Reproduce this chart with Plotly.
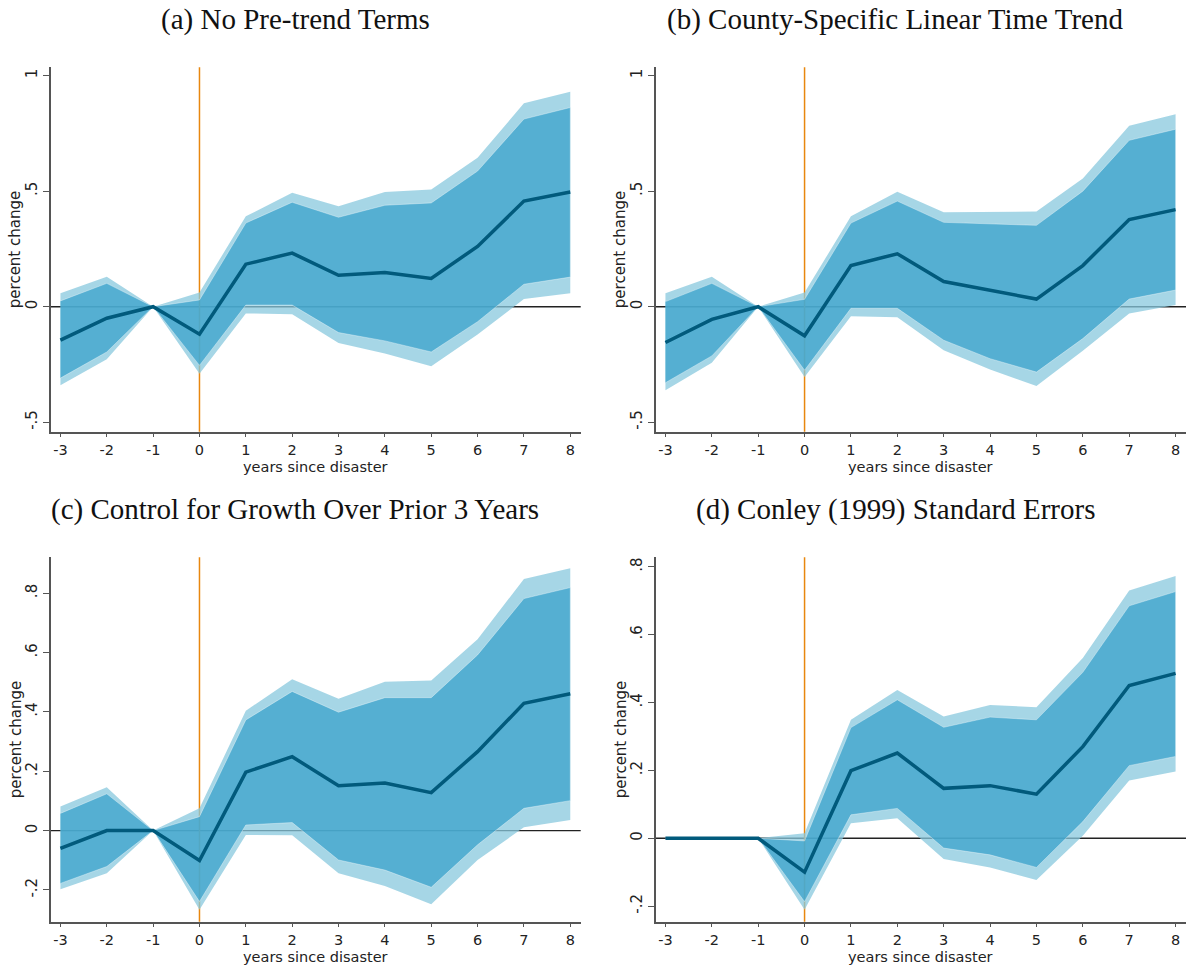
import plotly.graph_objects as go

# Event-time axis (years relative to the disaster)
years = [-3, -2, -1, 0, 1, 2, 3, 4, 5, 6, 7, 8]
x_ticks = [-3, -2, -1, 0, 1, 2, 3, 4, 5, 6, 7, 8]

# (a) No pre-trend terms
est_a = [-0.145, -0.050, 0.0, -0.119, 0.184, 0.232, 0.136, 0.148, 0.122, 0.261, 0.457, 0.496]
in_hi_a = [0.025, 0.101, 0.0, 0.029, 0.362, 0.452, 0.387, 0.439, 0.449, 0.587, 0.812, 0.862]
in_lo_a = [-0.309, -0.196, 0.0, -0.254, 0.007, 0.007, -0.112, -0.148, -0.196, -0.065, 0.097, 0.128]
out_hi_a = [0.058, 0.130, 0.0, 0.061, 0.391, 0.493, 0.435, 0.496, 0.507, 0.645, 0.880, 0.930]
out_lo_a = [-0.340, -0.228, 0.0, -0.290, -0.029, -0.033, -0.157, -0.203, -0.258, -0.120, 0.033, 0.058]

# (b) County-specific linear time trend
est_b = [-0.155, -0.055, 0.0, -0.126, 0.178, 0.229, 0.109, 0.070, 0.033, 0.178, 0.377, 0.420]
in_hi_b = [0.022, 0.101, 0.0, 0.032, 0.362, 0.457, 0.365, 0.358, 0.352, 0.500, 0.720, 0.768]
in_lo_b = [-0.329, -0.213, 0.0, -0.275, -0.007, -0.007, -0.145, -0.225, -0.283, -0.138, 0.033, 0.072]
out_hi_b = [0.058, 0.130, 0.0, 0.061, 0.391, 0.497, 0.409, 0.412, 0.412, 0.555, 0.783, 0.833]
out_lo_b = [-0.362, -0.243, 0.0, -0.304, -0.041, -0.046, -0.188, -0.272, -0.343, -0.191, -0.029, 0.007]

# (c) Control for growth over prior 3 years
est_c = [-0.060, 0.000, 0.0, -0.101, 0.197, 0.249, 0.151, 0.160, 0.128, 0.266, 0.429, 0.461]
in_hi_c = [0.058, 0.124, 0.0, 0.047, 0.373, 0.469, 0.399, 0.448, 0.448, 0.592, 0.782, 0.819]
in_lo_c = [-0.178, -0.121, 0.0, -0.239, 0.019, 0.027, -0.099, -0.133, -0.191, -0.048, 0.075, 0.101]
out_hi_c = [0.081, 0.146, 0.0, 0.075, 0.404, 0.510, 0.444, 0.502, 0.506, 0.645, 0.848, 0.884]
out_lo_c = [-0.198, -0.144, 0.0, -0.267, -0.015, -0.016, -0.144, -0.187, -0.248, -0.099, 0.011, 0.036]

# (d) Conley (1999) standard errors
est_d = [0.0, 0.0, 0.0, -0.100, 0.199, 0.251, 0.147, 0.155, 0.130, 0.270, 0.450, 0.486]
in_hi_d = [0.0, 0.0, 0.0, -0.008, 0.326, 0.408, 0.327, 0.357, 0.349, 0.489, 0.685, 0.727]
in_lo_d = [0.0, 0.0, 0.0, -0.187, 0.069, 0.088, -0.029, -0.049, -0.086, 0.049, 0.214, 0.241]
out_hi_d = [0.0, 0.0, 0.0, 0.015, 0.349, 0.437, 0.359, 0.393, 0.386, 0.531, 0.730, 0.773]
out_lo_d = [0.0, 0.0, 0.0, -0.211, 0.044, 0.059, -0.061, -0.086, -0.123, 0.007, 0.170, 0.197]

titles = ["(a) No Pre-trend Terms", "(b) County-Specific Linear Time Trend",
          "(c) Control for Growth Over Prior 3 Years", "(d) Conley (1999) Standard Errors"]

ytick_vals_ab = [-0.5, 0, 0.5, 1]
ytick_text_ab = ["-.5", "0", ".5", "1"]
ytick_vals_cd = [-0.2, 0, 0.2, 0.4, 0.6, 0.8]
ytick_text_cd = ["-.2", "0", ".2", ".4", ".6", ".8"]

W, H = 1186, 966

OUTER_FILL = "rgba(136,200,222,0.75)"
INNER_FILL = "rgba(57,162,203,0.75)"
LINE_COLOR = "#015a7c"
EVENT_COLOR = "#e8870f"
AXIS_COLOR = "#555555"


def px(xp):
    return xp / W


def py(yp):
    return 1 - yp / H


panels = [
    dict(est=est_a, ih=in_hi_a, il=in_lo_a, oh=out_hi_a, ol=out_lo_a,
         left=50.7, right=580.7, top=67.3, bottom=431.7,
         yrange=[-0.541, 1.036], tv=ytick_vals_ab, tt=ytick_text_ab, tcx=295),
    dict(est=est_b, ih=in_hi_b, il=in_lo_b, oh=out_hi_b, ol=out_lo_b,
         left=655.7, right=1186.0, top=67.3, bottom=431.7,
         yrange=[-0.541, 1.036], tv=ytick_vals_ab, tt=ytick_text_ab, tcx=895),
    dict(est=est_c, ih=in_hi_c, il=in_lo_c, oh=out_hi_c, ol=out_lo_c,
         left=50.7, right=580.7, top=557.3, bottom=921.7,
         yrange=[-0.307, 0.921], tv=ytick_vals_cd, tt=ytick_text_cd, tcx=295),
    dict(est=est_d, ih=in_hi_d, il=in_lo_d, oh=out_hi_d, ol=out_lo_d,
         left=655.7, right=1186.0, top=557.3, bottom=921.7,
         yrange=[-0.246, 0.828], tv=ytick_vals_cd, tt=ytick_text_cd, tcx=895),
]

fig = go.Figure()
layout_axes = {}
shapes = []
annotations = []

tick_font = dict(family="DejaVu Sans", size=15, color="#222222")
xtick_font = dict(family="DejaVu Sans", size=14.5, color="#222222")

for i, p in enumerate(panels):
    n = "" if i == 0 else str(i + 1)
    xa, ya = "x" + n, "y" + n

    band_x = years + years[::-1]
    fig.add_trace(go.Scatter(
        x=band_x, y=p["oh"] + p["ol"][::-1], xaxis=xa, yaxis=ya,
        mode="lines", fill="toself", fillcolor=OUTER_FILL,
        line=dict(width=0), hoverinfo="skip", showlegend=False))
    fig.add_trace(go.Scatter(
        x=band_x, y=p["ih"] + p["il"][::-1], xaxis=xa, yaxis=ya,
        mode="lines", fill="toself", fillcolor=INNER_FILL,
        line=dict(width=0.8, color="rgba(255,255,255,0.45)"),
        hoverinfo="skip", showlegend=False))
    fig.add_trace(go.Scatter(
        x=years, y=p["est"], xaxis=xa, yaxis=ya, mode="lines",
        line=dict(color=LINE_COLOR, width=3.5), showlegend=False))

    dom_x = [px(p["left"]), px(p["right"])]
    dom_y = [py(p["bottom"]), py(p["top"])]
    layout_axes["xaxis" + n] = dict(
        domain=dom_x, anchor=ya, range=[-3.21, 8.225],
        tickmode="array", tickvals=x_ticks, ticktext=[str(v) for v in x_ticks],
        showline=True, linecolor=AXIS_COLOR, linewidth=1.5,
        ticks="outside", ticklen=4, tickwidth=1.3, tickcolor=AXIS_COLOR,
        showgrid=False, zeroline=False, tickfont=xtick_font)
    layout_axes["yaxis" + n] = dict(
        domain=dom_y, anchor=xa, range=p["yrange"],
        tickmode="array", tickvals=p["tv"], ticktext=p["tt"], tickangle=-90,
        showline=True, linecolor=AXIS_COLOR, linewidth=1.5,
        ticks="outside", ticklen=6, tickwidth=1.3, tickcolor=AXIS_COLOR,
        showgrid=False, zeroline=False, tickfont=tick_font)

    # horizontal reference at zero and vertical marker at the disaster year
    shapes.append(dict(type="line", xref=xa + " domain", yref=ya,
                       x0=0, x1=1, y0=0, y1=0, layer="below",
                       line=dict(color="#222222", width=1.4)))
    shapes.append(dict(type="line", xref=xa, yref=ya + " domain",
                       x0=0, x1=0, y0=0, y1=1, layer="below",
                       line=dict(color=EVENT_COLOR, width=1.5)))

    annotations.append(dict(
        text=titles[i], xref="paper", yref="paper",
        x=px(p["tcx"]), y=py(p["top"] - 48), xanchor="center", yanchor="middle",
        showarrow=False, font=dict(family="Liberation Serif", size=29, color="#111111")))
    annotations.append(dict(
        text="years since disaster", xref="paper", yref="paper",
        x=px((p["left"] + min(p["right"], p["left"] + 530)) / 2), y=py(p["bottom"] + 35),
        xanchor="center", yanchor="middle", showarrow=False,
        font=dict(family="DejaVu Sans", size=14.5, color="#222222")))
    annotations.append(dict(
        text="percent change", xref="paper", yref="paper", textangle=-90,
        x=px(p["left"] - 35), y=py((p["top"] + p["bottom"]) / 2),
        xanchor="center", yanchor="middle", showarrow=False,
        font=dict(family="DejaVu Sans", size=15, color="#222222")))

fig.update_layout(
    width=W, height=H, margin=dict(l=0, r=0, t=0, b=0),
    paper_bgcolor="white", plot_bgcolor="white",
    shapes=shapes, annotations=annotations, showlegend=False,
    **layout_axes)

fig.write_html("out.html")
